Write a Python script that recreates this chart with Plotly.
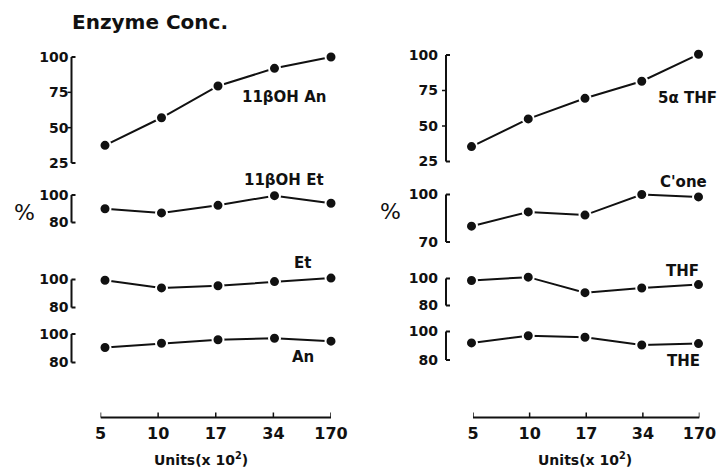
import plotly.graph_objects as go

# ---- data ----
units = ["5", "10", "17", "34", "170"]
an11 = [37.5, 57, 79.5, 92, 100]
et11 = [90, 87, 92.5, 99.5, 94]
et = [99.5, 94, 95.5, 98.5, 101]
an = [90.5, 93.5, 96, 97, 95]
thf5a = [35.5, 55, 69.5, 81.5, 100.5]
cone = [80, 89, 87, 100, 98.5]
thf = [98.5, 101, 89.5, 93, 95.5]
the = [92, 97, 96, 90.5, 91.5]

labels_left = ["11βOH An", "11βOH Et", "Et", "An"]
labels_right = ["5α THF", "C'one", "THF", "THE"]

W, H = 721, 469
FONT = "DejaVu Sans"
BLACK = "#111111"


def fx(p):
    return p / W


def fy(p):
    return 1 - p / H


xpos = list(range(len(units)))

fig = go.Figure()
layout = dict(
    width=W, height=H, autosize=False,
    margin=dict(l=0, r=0, t=0, b=0, pad=0, autoexpand=False),
    paper_bgcolor="white", plot_bgcolor="rgba(0,0,0,0)",
    showlegend=False,
    font=dict(family=FONT, color=BLACK),
)
shapes = []

# column geometry (pixels)
cols = [
    dict(axis=71.5, p0=105.0, p4=331.0, dright=345.0, b0=100.5, b4=331.0, stand=2),
    dict(axis=446.0, p0=471.5, p4=698.5, dright=712.0, b0=473.0, b4=699.5, stand=7),
]
bottom_px = 417.5

axn = [0]


def new_axis(letter):
    axn[0] += 1
    n = axn[0]
    return (f"{letter}axis{n}", f"{letter}{n}")


def dummy(xr, yr):
    fig.add_trace(go.Scatter(x=[None], y=[None], xaxis=xr, yaxis=yr,
                             hoverinfo="skip", showlegend=False))


def seg(xref, x0, x1, yref, y0, y1, w=2):
    shapes.append(dict(type="line", xref=xref, yref=yref, x0=x0, x1=x1,
                       y0=y0, y1=y1, layer="above",
                       line=dict(color=BLACK, width=w)))


# data x axes and bottom axes
for c in cols:
    ppu = (c["p4"] - c["p0"]) / 4
    xname, xref = new_axis("x")
    c["xref"] = xref
    layout[xname] = dict(
        domain=[fx(c["axis"]), fx(c["dright"])],
        range=[(c["axis"] - c["p0"]) / ppu, (c["dright"] - c["p0"]) / ppu],
        showline=False, showticklabels=False, ticks="", showgrid=False,
        zeroline=False, fixedrange=True, automargin=False,
    )
    bxname, bxref = new_axis("x")
    byname, byref = new_axis("y")
    layout[byname] = dict(domain=[fy(bottom_px), fy(bottom_px - 10)],
                          range=[0, 1], anchor=bxref, visible=False,
                          showgrid=False, zeroline=False, automargin=False)
    layout[xname]["anchor"] = byref
    layout[bxname] = dict(
        domain=[fx(c["b0"]), fx(c["b4"])], range=[0, 4], anchor=byref,
        tickvals=xpos, ticktext=units,
        showline=False, ticks="", showgrid=False, zeroline=False,
        tickfont=dict(family=FONT, size=16, color=BLACK, weight="bold"),
        ticklabelstandoff=4, automargin=False,
    )
    dummy(bxref, byref)
    # bottom axis line and upward ticks
    seg(bxref, xpos[0], xpos[-1], "paper", fy(bottom_px), fy(bottom_px))
    for xv in xpos:
        seg(bxref, xv, xv, "paper", fy(bottom_px), fy(bottom_px - 5), w=1.5)

# panel specs: (series, column, top px, bottom px, range, ticks)
panels = [
    (an11, 0, 57, 163, [25, 100], [25, 50, 75, 100]),
    (et11, 0, 195, 222.5, [80, 100], [80, 100]),
    (et, 0, 279.5, 307.5, [80, 100], [80, 100]),
    (an, 0, 334, 362.5, [80, 100], [80, 100]),
    (thf5a, 1, 55, 161.5, [25, 100], [25, 50, 75, 100]),
    (cone, 1, 194.5, 242, [70, 100], [70, 100]),
    (thf, 1, 278.5, 305.5, [80, 100], [80, 100]),
    (the, 1, 331.5, 360, [80, 100], [80, 100]),
]

EXT = 12  # px of headroom so points slightly above the range still show

for vals, ci, top, bot, rng, tv in panels:
    c = cols[ci]
    xref = c["xref"]
    ppu = (bot - top) / (rng[1] - rng[0])
    yname, yref = new_axis("y")
    layout[yname] = dict(
        domain=[fy(bot + EXT), fy(top - EXT)],
        range=[rng[0] - EXT / ppu, rng[1] + EXT / ppu],
        anchor=xref, side="left",
        showline=False, ticks="",
        tickvals=tv, ticktext=[str(v) for v in tv],
        showgrid=False, zeroline=False, automargin=False,
        tickfont=dict(family=FONT, size=14, color=BLACK, weight="bold"),
        ticklabelstandoff=c["stand"],
    )
    ax = fx(c["axis"])
    # bracket-style axis: vertical line, inward serifs at the ends, outward mid ticks
    seg("paper", ax, ax, yref, rng[0], rng[1])
    for v in (tv[0], tv[-1]):
        seg("paper", ax, fx(c["axis"] + 4), yref, v, v)
    for v in tv[1:-1]:
        seg("paper", fx(c["axis"] - 4), ax, yref, v, v, w=1.5)

    fig.add_trace(go.Scatter(
        x=xpos, y=vals, xaxis=xref, yaxis=yref,
        mode="lines+markers",
        line=dict(color=BLACK, width=2),
        marker=dict(size=11, color=BLACK, line=dict(color="white", width=2)),
        cliponaxis=False,
    ))

ann = []


def txt(s, x, y, size=15, xanchor="center", weight="bold"):
    ann.append(dict(text=s, x=fx(x), y=fy(y), xref="paper", yref="paper",
                    showarrow=False, xanchor=xanchor, yanchor="middle",
                    font=dict(family=FONT, size=size, color=BLACK, weight=weight)))


txt("Enzyme Conc.", 70, 22, size=20, xanchor="left")
for s, (x, y) in zip(labels_left, [(284, 97), (284, 180), (302, 263), (303, 357)]):
    txt(s, x, y)
for s, (x, y) in zip(labels_right, [(687, 98), (683, 182), (682, 271), (683, 361)]):
    txt(s, x, y)
txt("%", 24, 212, size=22, weight="normal")
txt("%", 390, 211, size=22, weight="normal")
txt("Units(x 10<sup>2</sup>)", 201, 459, size=14)
txt("Units(x 10<sup>2</sup>)", 585, 459, size=14)

layout["annotations"] = ann
layout["shapes"] = shapes
fig.update_layout(**layout)

post = (
    "document.body.style.margin='0';"
    "document.body.style.padding='0';"
    "document.documentElement.style.overflow='hidden';"
    "var gd=document.getElementById('{plot_id}');"
    "Plotly.relayout(gd,{width:%d,height:%d});" % (W, H)
)
fig.write_html("out.html", post_script=post)
